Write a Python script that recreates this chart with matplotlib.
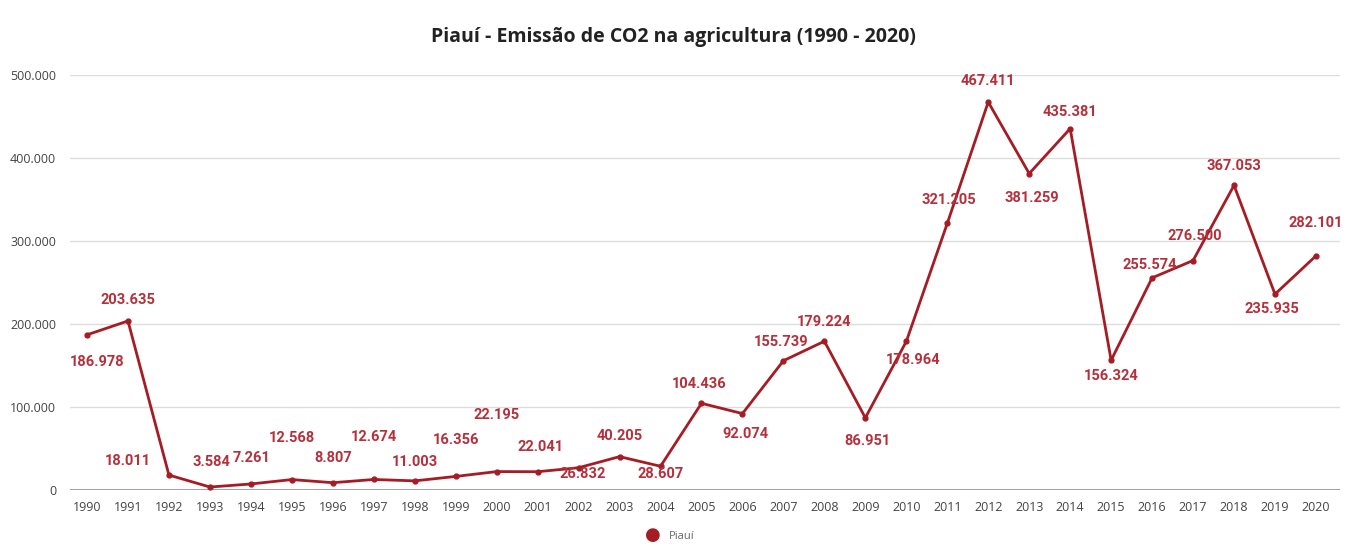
import numpy as np
import matplotlib.pyplot as plt
from matplotlib.ticker import FuncFormatter

years = list(range(1990, 2021))
emissions = [186978, 203635, 18011, 3584, 7261, 12568, 8807, 12674, 11003, 16356,
             22195, 22041, 26832, 40205, 28607, 104436, 92074, 155739, 179224, 86951,
             178964, 321205, 467411, 381259, 435381, 156324, 255574, 276500, 367053, 235935,
             282101]

# label placement (dx, dy) in pixels, relative to each point
label_offsets = [(10, -27), (0, 21), (-41, 14), (2, 25), (1, 26), (0, 42), (0, 25), (0, 42),
                 (0, 19), (0, 36), (0, 57), (3, 25), (4, -6), (0, 21), (0, -8),
                 (-2, 19), (3, -20), (-2, 19), (0, 19), (2, -23), (7, -19), (2, 23),
                 (0, 21), (3, -24), (0, 17), (0, -16), (-2, 13), (2, 25), (0, 19),
                 (-3, -15), (0, 33)]

line_color = '#a51c24'
label_color = '#b5303a'

def fmt_thousands(v, pos=None):
    return '{:,.0f}'.format(v).replace(',', '.')

fig = plt.figure(figsize=(13.49, 5.47), dpi=100)
ax = fig.add_axes([0.0519, 0.1042, 0.9414, 0.7587])

ax.plot(years, emissions, color=line_color, lw=2, marker='o', ms=3.5, zorder=3)

for yr, val, (dx, dy) in zip(years, emissions, label_offsets):
    ax.annotate(fmt_thousands(val), (yr, val), xytext=(dx, dy), textcoords='offset pixels',
                ha='center', va='center', fontsize=10.5, fontweight='bold',
                color=label_color, family='Roboto', zorder=4)

ax.set_xlim(1989.585, 2020.586)
ax.set_ylim(0, 500000)
ax.set_xticks(years)
ax.set_yticks(np.arange(0, 500001, 100000))
ax.yaxis.set_major_formatter(FuncFormatter(fmt_thousands))
ax.tick_params(axis='both', length=0, labelsize=9, labelcolor='#444444')
ax.tick_params(axis='x', pad=8)
ax.tick_params(axis='y', pad=10)
for lab in ax.get_xticklabels() + ax.get_yticklabels():
    lab.set_family('Open Sans')

ax.grid(axis='y', color='#dddddd', lw=1)
ax.axhline(0, color='#999999', lw=2, zorder=2)
for s in ax.spines.values():
    s.set_visible(False)

fig.suptitle('Piauí - Emissão de CO2 na agricultura (1990 - 2020)', x=0.499, y=0.95,
             fontsize=14, fontweight='bold', family='Open Sans', color='#222222')

# legend marker + name below the axis
fig.text(0.484, 0.022, '\u25cf', color=line_color, fontsize=13, ha='center', va='center',
         family='DejaVu Sans')
fig.text(0.496, 0.02, 'Piauí', color='#666666', fontsize=8, ha='left', va='center',
         family='Open Sans')

fig.savefig('out.png', dpi=100)
